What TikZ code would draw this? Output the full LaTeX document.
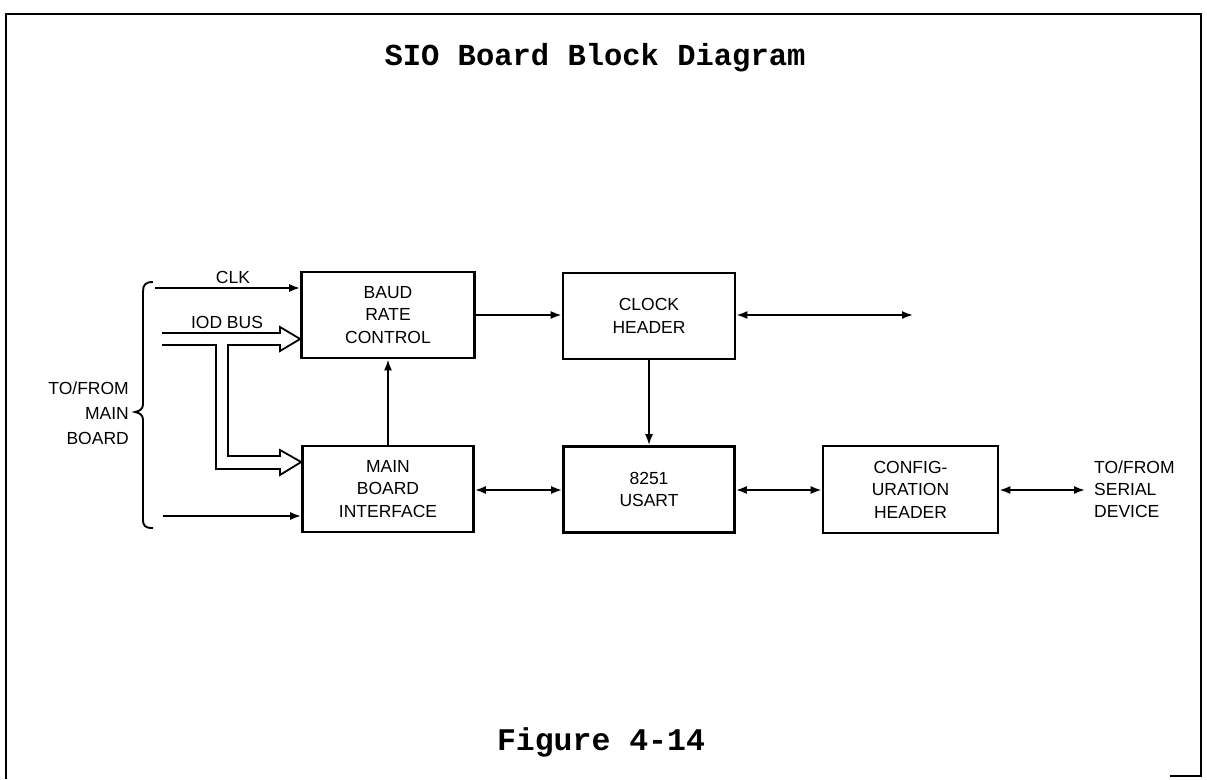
\documentclass[tikz,border=0pt]{standalone}
\usepackage{fontspec}
\setmainfont{Liberation Sans}
\newfontfamily\typewr{Liberation Mono}
\usetikzlibrary{arrows.meta}
\begin{document}
\begin{tikzpicture}[x=1pt,y=-1pt,
  blk/.style={draw,line width=2.7pt,minimum width=#1,minimum height=86pt,inner sep=0pt,align=center,font=\fontsize{17.5}{22.5}\selectfont},
  blk/.default=172pt,
  conn/.style={line width=1.8pt},
  arr/.style={conn,-{Latex[length=11pt,width=8pt]}},
  darr/.style={conn,{Latex[length=11pt,width=8pt]}-{Latex[length=11pt,width=8pt]}},
  lbl/.style={font=\fontsize{17.5}{24}\selectfont,inner sep=0pt},
  bus/.style={line width=1.8pt,line join=miter}
]
\useasboundingbox (0,0) rectangle (1207,779);
% frame
\draw[line width=2.8pt] (6,779) -- (6,14) -- (1201,14) -- (1201,776) -- (1170,776);

% titles
\node[font=\typewr\bfseries\fontsize{30.5}{32}\selectfont,inner sep=0pt] (title) at (595,58) {SIO Board Block Diagram};
\node[font=\typewr\bfseries\fontsize{31.5}{32}\selectfont,inner sep=0pt] (fig) at (601,742) {Figure 4-14};

% blocks
\node[blk=173pt] (baud) at (388,315) {BAUD\\RATE\\CONTROL};
\node[blk] (clock) at (649,316) {CLOCK\\HEADER};
\node[blk=171pt] (main) at (388,489) {MAIN\\BOARD\\INTERFACE};
\node[blk=171pt] (usart) at (649,489.5) {8251\\USART};
\node[blk=175pt,minimum height=87pt] (config) at (910.5,489.5) {CONFIG-\\URATION\\HEADER};

% labels
\node[lbl] (clkl) at (233,277) {CLK};
\node[lbl] (iodl) at (227,322) {IOD BUS};
\node[lbl,align=right,anchor=east,font=\fontsize{17.5}{25}\selectfont] (mainl) at (129,413) {TO/FROM\\MAIN\\BOARD};
\node[lbl,align=left,anchor=west,font=\fontsize{17.5}{22}\selectfont] (serl) at (1094,489) {TO/FROM\\SERIAL\\DEVICE};

% coordinates
\coordinate (clkin) at (155,288);
\coordinate (botin) at (163,516);
\coordinate (clkout) at (913,315);
\coordinate (serout) at (1085,490);

% connectors
\draw[arr] (clkin) -- (clkin -| baud.west);
\draw[arr] (botin) -- (botin -| main.west);
\draw[arr] (baud.east |- 0,315) -- (clock.west |- 0,315);
\draw[darr] (clock.east |- 0,315) -- (clkout);
\draw[arr] (clock.south) -- (usart.north);
\draw[arr] (main.north) -- (baud.south);
\draw[darr] (main.east |- 0,490) -- (usart.west |- 0,490);
\draw[darr] (usart.east |- 0,490) -- (config.west |- 0,490);
\draw[darr] (config.east |- 0,490) -- (serout);

% IOD bus (hollow)
\draw[bus] (162,333) -- (280,333) -- (280,327) -- (baud.west |- 0,339) -- (280,351) -- (280,345)
  -- (228,345) -- (228,456) -- (280,456) -- (280,450) -- (main.west |- 0,462) -- (280,475)
  -- (280,469) -- (216,469) -- (216,345) -- (162,345);

% brace
\draw[line width=1.9pt] (153,282) .. controls (145,282) and (143,285) .. (143,292)
  -- (143,404) .. controls (143,409) and (140,411) .. (135,412)
  .. controls (140,413) and (143,415) .. (143,420)
  -- (143,519) .. controls (143,526) and (145,528) .. (153,528);
\end{tikzpicture}
\end{document}
